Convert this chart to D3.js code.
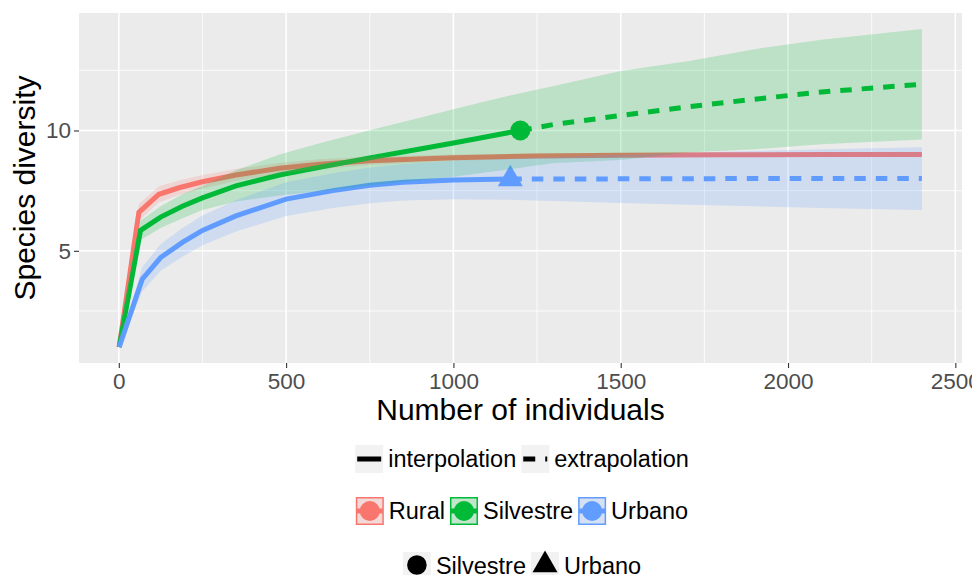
<!DOCTYPE html>
<html>
<head>
<meta charset="utf-8">
<script src="https://cdn.jsdelivr.net/npm/d3@7"></script>
<style>
  body { margin: 0; background: #fff; }
  svg { display: block; font-family: "Liberation Sans", Arial, Helvetica, sans-serif; }
</style>
</head>
<body>
<svg></svg>
<script>
// values
var sites = ['Rural', 'Silvestre', 'Urbano'];
var siteColors = ['#F8766D', '#00BA38', '#619CFF'];

// Rural: interpolation only, all the way to 2400
var ruralX  = [1, 60, 120, 180, 250, 350, 480, 600, 750, 1000, 1250, 1500, 1800, 2100, 2400];
var ruralY  = [1, 6.6, 7.35, 7.62, 7.87, 8.15, 8.43, 8.6, 8.74, 8.87, 8.94, 8.97, 8.99, 9.0, 9.0];
var ruralLo = [1, 6.25, 7.02, 7.32, 7.59, 7.9, 8.21, 8.4, 8.57, 8.74, 8.84, 8.89, 8.93, 8.95, 8.96];
var ruralHi = [1, 6.95, 7.68, 7.92, 8.15, 8.4, 8.65, 8.8, 8.91, 9.0, 9.04, 9.05, 9.05, 9.05, 9.04];

// Silvestre
var silvX  = [1, 65, 125, 190, 250, 350, 480, 600, 750, 900, 1000, 1100, 1200];
var silvY  = [1, 5.85, 6.4, 6.85, 7.2, 7.7, 8.15, 8.47, 8.86, 9.23, 9.48, 9.74, 10.0];
var silvLo = [1, 5.45, 5.95, 6.35, 6.7, 7.05, 7.3, 7.47, 7.71, 7.93, 8.08, 8.26, 8.45];
var silvHi = [1, 6.25, 6.85, 7.35, 7.7, 8.35, 9.0, 9.47, 10.01, 10.53, 10.88, 11.22, 11.55];
var silvExtX  = [1200, 1300, 1500, 1700, 1900, 2100, 2400];
var silvExtY  = [10.0, 10.25, 10.62, 10.98, 11.3, 11.6, 11.92];
var silvExtLo = [8.45, 8.65, 8.77, 9.08, 9.22, 9.43, 9.62];
var silvExtHi = [11.55, 11.85, 12.47, 12.88, 13.38, 13.77, 14.22];

// Urbano
var urbX  = [1, 70, 125, 190, 250, 350, 500, 640, 750, 850, 1000, 1170];
var urbY  = [1, 3.82, 4.72, 5.35, 5.85, 6.45, 7.15, 7.5, 7.72, 7.85, 7.94, 7.98];
var urbLo = [1, 3.32, 4.17, 4.75, 5.23, 5.8, 6.45, 6.78, 6.98, 7.09, 7.14, 7.12];
var urbHi = [1, 4.32, 5.27, 5.95, 6.47, 7.1, 7.85, 8.22, 8.46, 8.61, 8.74, 8.84];
var urbExtX  = [1170, 1500, 1800, 2100, 2400];
var urbExtY  = [7.98, 7.99, 8.0, 8.0, 8.0];
var urbExtLo = [7.12, 6.99, 6.88, 6.78, 6.7];
var urbExtHi = [8.84, 8.99, 9.12, 9.22, 9.3];

// observed samples (point markers)
var obsSite = ['Silvestre', 'Urbano'];
var obsX = [1200, 1170];
var obsY = [10.0, 7.98];
var obsShape = ['circle', 'triangle'];

var xTicks = [0, 500, 1000, 1500, 2000, 2500];
var xMinor = [250, 750, 1250, 1750, 2250];
var yTicks = [5, 10];
var yMinor = [2.5, 7.5, 12.5];

var lineTypes = ['interpolation', 'extrapolation'];


var width = 972;
var height = 575;
var panel = {left: 79, right: 962, top: 13, bottom: 363};
var dash = '11.5,10';

function zip(xs, ys, lo, hi) {
    return xs.map(function(d, i) { return {x: d, y: ys[i], lo: lo[i], hi: hi[i]}; });
}

var series = [
    {site: 'Rural', interp: zip(ruralX, ruralY, ruralLo, ruralHi), extrap: []},
    {site: 'Silvestre', interp: zip(silvX, silvY, silvLo, silvHi),
        extrap: zip(silvExtX, silvExtY, silvExtLo, silvExtHi)},
    {site: 'Urbano', interp: zip(urbX, urbY, urbLo, urbHi),
        extrap: zip(urbExtX, urbExtY, urbExtLo, urbExtHi)}
];

var color = d3.scaleOrdinal().domain(sites).range(siteColors);

// ggplot style 5% expansion of the data range
var allX = [].concat(ruralX, silvX, silvExtX, urbX, urbExtX);
var allY = [].concat(ruralLo, ruralHi, silvLo, silvHi, silvExtLo, silvExtHi, urbLo, urbHi, urbExtLo, urbExtHi);
var xe = d3.extent(allX), ye = d3.extent(allY);
var xp = (xe[1] - xe[0]) * 0.05, yp = (ye[1] - ye[0]) * 0.05;

var x = d3.scaleLinear().domain([xe[0] - xp, xe[1] + xp]).range([panel.left, panel.right]);
var y = d3.scaleLinear().domain([ye[0] - yp, ye[1] + yp]).range([panel.bottom, panel.top]);

var svg = d3.select('svg')
    .attr('width', width)
    .attr('height', height);

// panel background and grid
svg.append('rect')
    .attr('x', panel.left).attr('y', panel.top)
    .attr('width', panel.right - panel.left).attr('height', panel.bottom - panel.top)
    .attr('fill', '#EBEBEB');

var grid = svg.append('g').attr('class', 'grid').attr('stroke', '#fff');
grid.selectAll('line.xminor').data(xMinor).enter().append('line')
    .attr('x1', x).attr('x2', x).attr('y1', panel.top).attr('y2', panel.bottom)
    .attr('stroke-width', 0.8);
grid.selectAll('line.yminor').data(yMinor).enter().append('line')
    .attr('y1', y).attr('y2', y).attr('x1', panel.left).attr('x2', panel.right)
    .attr('stroke-width', 0.8);
grid.selectAll('line.xmajor').data(xTicks).enter().append('line')
    .attr('x1', x).attr('x2', x).attr('y1', panel.top).attr('y2', panel.bottom)
    .attr('stroke-width', 1.6);
grid.selectAll('line.ymajor').data(yTicks).enter().append('line')
    .attr('y1', y).attr('y2', y).attr('x1', panel.left).attr('x2', panel.right)
    .attr('stroke-width', 1.6);

var line = d3.line().x(function(d) { return x(d.x); }).y(function(d) { return y(d.y); });
var area = d3.area()
    .x(function(d) { return x(d.x); })
    .y0(function(d) { return y(d.lo); })
    .y1(function(d) { return y(d.hi); });

// points first, then lines, then ribbons on top (same order as ggiNEXT)
var pts = svg.append('g').attr('class', 'points');
obsSite.forEach(function(s, i) {
    var type = obsShape[i] === 'circle' ? d3.symbolCircle : d3.symbolTriangle;
    var size = obsShape[i] === 'circle' ? 314 : 270;
    pts.append('path')
        .attr('d', d3.symbol().type(type).size(size)())
        .attr('transform', 'translate(' + x(obsX[i]) + ',' + y(obsY[i]) + ')')
        .attr('fill', color(s));
});

var lines = svg.append('g').attr('class', 'lines').attr('fill', 'none').attr('stroke-width', 5);
series.forEach(function(s) {
    lines.append('path').attr('d', line(s.interp)).attr('stroke', color(s.site));
    if (s.extrap.length) {
        lines.append('path').attr('d', line(s.extrap)).attr('stroke', color(s.site))
            .attr('stroke-dasharray', dash);
    }
});

var ribbons = svg.append('g').attr('class', 'ribbons');
series.forEach(function(s) {
    var pts = s.interp.concat(s.extrap.slice(1));
    ribbons.append('path').attr('d', area(pts))
        .attr('fill', color(s.site)).attr('fill-opacity', 0.2);
});

// axes
var xAxis = svg.append('g')
    .attr('transform', 'translate(0,' + panel.bottom + ')')
    .call(d3.axisBottom(x).tickValues(xTicks).tickSize(5).tickPadding(5).tickFormat(d3.format('d')));
var yAxis = svg.append('g')
    .attr('transform', 'translate(' + panel.left + ',0)')
    .call(d3.axisLeft(y).tickValues(yTicks).tickSize(5).tickPadding(3));

[xAxis, yAxis].forEach(function(a) {
    a.select('.domain').remove();
    a.selectAll('.tick line').attr('stroke', '#333333').attr('stroke-width', 1.1);
    a.selectAll('.tick text').attr('fill', '#4D4D4D')
        .style('font-size', '22.5px').style('font-family', null);
});

svg.append('text')
    .attr('x', (panel.left + panel.right) / 2).attr('y', 420)
    .attr('text-anchor', 'middle')
    .style('font-size', '30px')
    .text('Number of individuals');

svg.append('text')
    .attr('transform', 'translate(35,' + (panel.top + panel.bottom) / 2 + ') rotate(-90)')
    .attr('text-anchor', 'middle')
    .style('font-size', '30px')
    .text('Species diversity');

// legends, three rows centred under the panel
var legendCenter = 522;
var keyW = 28;

function legendRow(top, labels, drawKey) {
    var g = svg.append('g').attr('class', 'legend');
    var items = labels.map(function(l, i) {
        var it = g.append('g');
        var key = it.append('g');
        key.append('rect').attr('width', keyW).attr('height', keyW).attr('fill', '#F2F2F2');
        drawKey(key, i);
        var t = it.append('text').attr('x', keyW + 5).attr('y', keyW / 2).attr('dy', '0.35em')
            .style('font-size', '23.5px').text(l);
        return {g: it, w: keyW + 5 + t.node().getComputedTextLength()};
    });
    var total = d3.sum(items, function(d) { return d.w; }) + 5 * (items.length - 1);
    var cx = legendCenter - total / 2;
    items.forEach(function(d) {
        d.g.attr('transform', 'translate(' + cx + ',' + top + ')');
        cx += d.w + 5;
    });
}

legendRow(445, lineTypes, function(key, i) {
    key.append('line').attr('x1', 2).attr('x2', keyW - 2).attr('y1', keyW / 2).attr('y2', keyW / 2)
        .attr('stroke', '#000').attr('stroke-width', 5)
        .attr('stroke-dasharray', i === 1 ? '12,10' : null);
});

legendRow(497, sites, function(key, i) {
    var c = color(sites[i]);
    key.append('rect').attr('x', 0.75).attr('y', 0.75).attr('width', keyW - 1.5).attr('height', keyW - 1.5)
        .attr('fill', c).attr('fill-opacity', 0.2)
        .attr('stroke', c).attr('stroke-width', 1.5);
    key.append('line').attr('x1', 1).attr('x2', keyW - 1).attr('y1', keyW / 2).attr('y2', keyW / 2)
        .attr('stroke', c).attr('stroke-width', 5);
    key.append('circle').attr('cx', keyW / 2).attr('cy', keyW / 2).attr('r', 10).attr('fill', c);
});

legendRow(552, obsSite, function(key, i) {
    var type = obsShape[i] === 'circle' ? d3.symbolCircle : d3.symbolTriangle;
    key.append('path')
        .attr('d', d3.symbol().type(type).size(obsShape[i] === 'circle' ? 300 : 270)())
        .attr('transform', 'translate(' + keyW / 2 + ',' + (keyW / 2 - 1) + ')')
        .attr('fill', '#000');
});
</script>
</body>
</html>
